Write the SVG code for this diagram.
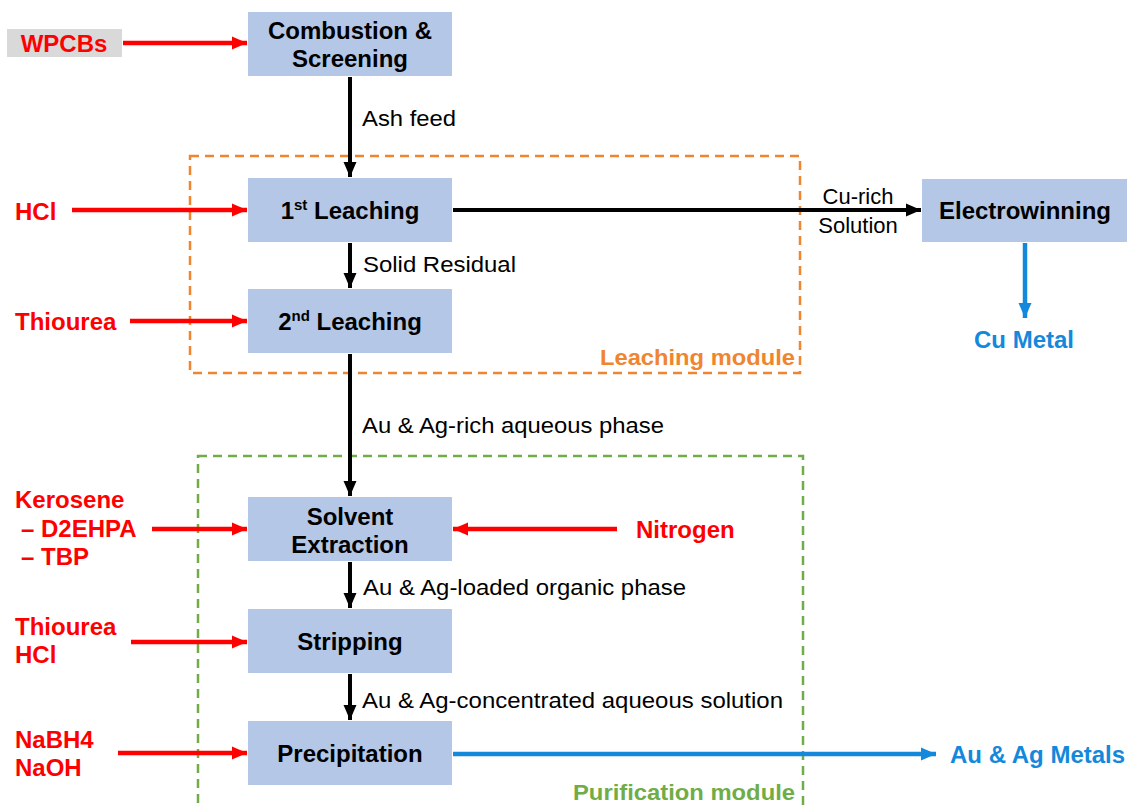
<svg xmlns="http://www.w3.org/2000/svg" width="1128" height="807" viewBox="0 0 1128 807">
<style>
.box{fill:#B4C7E7}
.bt{font-family:"Liberation Sans",Arial,sans-serif;font-weight:bold;font-size:24px;fill:#000;text-anchor:middle}
.el{font-family:"Liberation Sans",Arial,sans-serif;font-size:22px;fill:#000}
.rd{font-family:"Liberation Sans",Arial,sans-serif;font-weight:bold;font-size:24px;fill:#FF0000}
.bl{font-family:"Liberation Sans",Arial,sans-serif;font-weight:bold;font-size:24px;fill:#1488DB}
.blk{stroke:#000;stroke-width:4;fill:none}
.red{stroke:#FF0000;stroke-width:4.5;fill:none}
.blu{stroke:#1488DB;stroke-width:4.5;fill:none}
</style>
<defs>
<marker id="ak" markerUnits="userSpaceOnUse" markerWidth="16" markerHeight="16" refX="15" refY="8" orient="auto"><path d="M0,1.5 L15,8 L0,14.5 z" fill="#000"/></marker>
<marker id="ar" markerUnits="userSpaceOnUse" markerWidth="16" markerHeight="16" refX="15" refY="8" orient="auto"><path d="M0,1.5 L15,8 L0,14.5 z" fill="#FF0000"/></marker>
<marker id="ab" markerUnits="userSpaceOnUse" markerWidth="16" markerHeight="16" refX="15" refY="8" orient="auto"><path d="M0,1.5 L15,8 L0,14.5 z" fill="#1488DB"/></marker>
</defs>
<rect width="1128" height="807" fill="#fff"/>

<g id="modules">
<rect x="190" y="156" width="610" height="217" fill="none" stroke="#F08530" stroke-width="2.5" stroke-dasharray="9,6"/>
<text x="795" y="365" text-anchor="end" font-family="Liberation Sans,Arial,sans-serif" font-weight="bold" font-size="22" fill="#F08530" textLength="195" lengthAdjust="spacingAndGlyphs">Leaching module</text>
<rect x="198" y="456" width="605" height="356" fill="none" stroke="#70AD47" stroke-width="2.5" stroke-dasharray="9,6"/>
<text x="795" y="800" text-anchor="end" font-family="Liberation Sans,Arial,sans-serif" font-weight="bold" font-size="22" fill="#70AD47" textLength="222" lengthAdjust="spacingAndGlyphs">Purification module</text>
</g>

<g id="connectors">
<line class="red" x1="123" y1="43" x2="247" y2="43" marker-end="url(#ar)"/>
<line class="blk" x1="350" y1="77" x2="350" y2="177" marker-end="url(#ak)"/>
<line class="red" x1="72" y1="210" x2="247" y2="210" marker-end="url(#ar)"/>
<line class="blk" x1="453" y1="210" x2="921" y2="210" marker-end="url(#ak)"/>
<line class="blu" x1="1025" y1="243" x2="1025" y2="318" marker-end="url(#ab)"/>
<line class="blk" x1="350" y1="243" x2="350" y2="288" marker-end="url(#ak)"/>
<line class="red" x1="130" y1="321" x2="247" y2="321" marker-end="url(#ar)"/>
<line class="blk" x1="350" y1="354" x2="350" y2="496" marker-end="url(#ak)"/>
<line class="red" x1="152" y1="529" x2="247" y2="529" marker-end="url(#ar)"/>
<line class="red" x1="617" y1="529" x2="453" y2="529" marker-end="url(#ar)"/>
<line class="blk" x1="350" y1="562" x2="350" y2="608" marker-end="url(#ak)"/>
<line class="red" x1="131" y1="642" x2="247" y2="642" marker-end="url(#ar)"/>
<line class="blk" x1="350" y1="674" x2="350" y2="720" marker-end="url(#ak)"/>
<line class="red" x1="118" y1="753" x2="247" y2="753" marker-end="url(#ar)"/>
<line class="blu" x1="453" y1="754" x2="936" y2="754" marker-end="url(#ab)"/>
<text class="el" x="362" y="126" textLength="94" lengthAdjust="spacingAndGlyphs">Ash feed</text>
<text class="el" x="363" y="272" textLength="153" lengthAdjust="spacingAndGlyphs">Solid Residual</text>
<text class="el" x="362" y="433" textLength="302" lengthAdjust="spacingAndGlyphs">Au &amp; Ag-rich aqueous phase</text>
<text class="el" x="363" y="595" textLength="323" lengthAdjust="spacingAndGlyphs">Au &amp; Ag-loaded organic phase</text>
<text class="el" x="362" y="708" textLength="421" lengthAdjust="spacingAndGlyphs">Au &amp; Ag-concentrated aqueous solution</text>
<text class="el" x="858" y="204" text-anchor="middle">Cu-rich</text>
<text class="el" x="858" y="233" text-anchor="middle">Solution</text>
</g>

<g id="wpcbs">
<rect x="7" y="29" width="115" height="28" fill="#D9D9D9"/>
<text class="rd" x="64" y="52" text-anchor="middle">WPCBs</text>
</g>
<g id="combustion">
<rect class="box" x="248" y="12" width="204" height="64"/>
<text class="bt" x="350" y="39">Combustion &amp;</text>
<text class="bt" x="350" y="67">Screening</text>
</g>
<g id="leaching1">
<rect class="box" x="248" y="178" width="204" height="64"/>
<text class="bt" x="350" y="219">1<tspan font-size="15" dy="-9">st</tspan><tspan dy="9"> Leaching</tspan></text>
</g>
<g id="leaching2">
<rect class="box" x="248" y="289" width="204" height="64"/>
<text class="bt" x="350" y="330">2<tspan font-size="15" dy="-9">nd</tspan><tspan dy="9"> Leaching</tspan></text>
</g>
<g id="electrowinning">
<rect class="box" x="922" y="179" width="205" height="63"/>
<text class="bt" x="1025" y="219">Electrowinning</text>
</g>
<g id="extraction">
<rect class="box" x="248" y="497" width="204" height="64"/>
<text class="bt" x="350" y="525">Solvent</text>
<text class="bt" x="350" y="553">Extraction</text>
</g>
<g id="stripping">
<rect class="box" x="248" y="609" width="204" height="64"/>
<text class="bt" x="350" y="650">Stripping</text>
</g>
<g id="precipitation">
<rect class="box" x="248" y="721" width="204" height="64"/>
<text class="bt" x="350" y="762">Precipitation</text>
</g>
<g id="hcl1"><text class="rd" x="15" y="220">HCl</text></g>
<g id="thiourea1"><text class="rd" x="15" y="330">Thiourea</text></g>
<g id="kerosene">
<text class="rd" x="15" y="508">Kerosene</text>
<text class="rd" x="21" y="537">– D2EHPA</text>
<text class="rd" x="21" y="565">– TBP</text>
</g>
<g id="nitrogen"><text class="rd" x="636" y="538">Nitrogen</text></g>
<g id="thiourea2">
<text class="rd" x="15" y="635">Thiourea</text>
<text class="rd" x="15" y="663">HCl</text>
</g>
<g id="nabh4">
<text class="rd" x="15" y="748">NaBH4</text>
<text class="rd" x="15" y="776">NaOH</text>
</g>
<g id="cumetal"><text class="bl" x="1024" y="348" text-anchor="middle">Cu Metal</text></g>
<g id="aumetals"><text class="bl" x="950" y="763">Au &amp; Ag Metals</text></g>
</svg>
